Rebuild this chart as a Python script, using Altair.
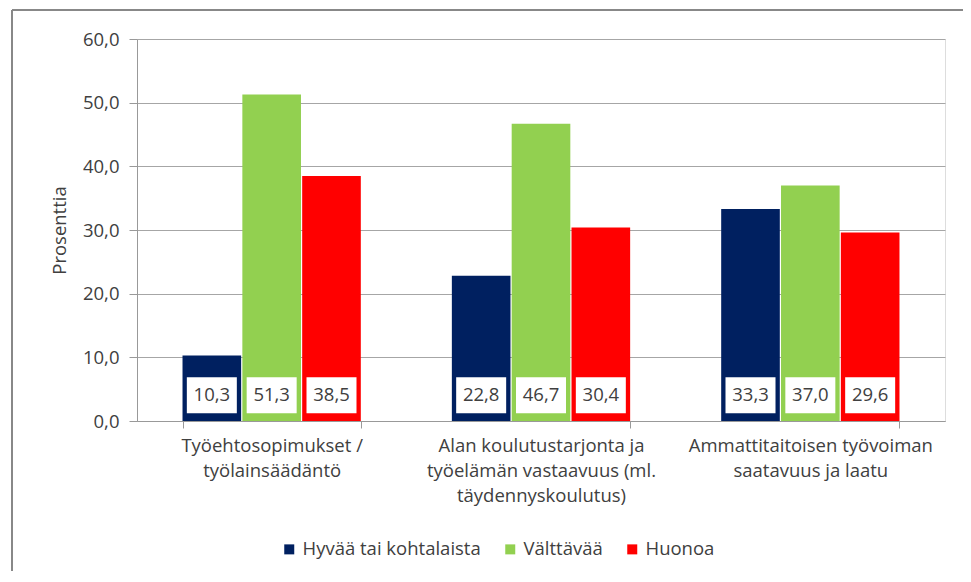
import altair as alt
import pandas as pd

categories = [
    "Työehtosopimukset /|työlainsäädäntö",
    "Alan koulutustarjonta ja|työelämän vastaavuus (ml.|täydennyskoulutus)",
    "Ammattitaitoisen työvoiman|saatavuus ja laatu",
]
series = ["Hyvää tai kohtalaista", "Välttävää", "Huonoa"]
colors = ["#002060", "#92D050", "#FF0000"]
values_hyvaa = [10.3, 22.8, 33.3]
values_valttava = [51.3, 46.7, 37.0]
values_huonoa = [38.5, 30.4, 29.6]

rows = []
for i, c in enumerate(categories):
    for s, vals in zip(series, [values_hyvaa, values_valttava, values_huonoa]):
        rows.append({"cat": c, "series": s, "value": vals[i]})
df = pd.DataFrame(rows)

FONT = "Open Sans"
FS = 18.5
TXT = "#404040"

x_enc = alt.X(
    "cat:N",
    sort=categories,
    scale=alt.Scale(paddingInner=0.338, paddingOuter=0.169),
    axis=alt.Axis(
        title=None,
        labelExpr="split(datum.label, '|')",
        labelAngle=0,
        labelFont=FONT,
        labelFontSize=FS,
        labelColor=TXT,
        labelLineHeight=25,
        labelPadding=8,
        labelBaseline="top",
        labelLimit=0,
        domainColor="#999999",
        tickColor="#999999",
        tickSize=7,
        tickBand="extent",
    ),
)
xoff = alt.XOffset("series:N", sort=series, scale=alt.Scale(paddingInner=0.02))
color_enc = alt.Color(
    "series:N",
    sort=series,
    scale=alt.Scale(domain=series, range=colors),
    legend=alt.Legend(
        title=None,
        orient="none",
        legendX=143,
        legendY=501,
        direction="horizontal",
        columns=3,
        columnPadding=20,
        symbolType="square",
        symbolSize=100,
        symbolStrokeWidth=0,
        labelFont=FONT,
        labelFontSize=FS,
        labelColor=TXT,
        labelLimit=0,
        padding=0,
    ),
)

bars = alt.Chart(df).mark_bar().encode(
    x=x_enc,
    xOffset=xoff,
    y=alt.Y(
        "value:Q",
        scale=alt.Scale(domain=[0, 60], nice=False),
        axis=alt.Axis(
            title="Prosenttia",
            titleFont=FONT,
            titleFontSize=FS,
            titleFontWeight="normal",
            titleColor=TXT,
            titlePadding=13,
            values=[0, 10, 20, 30, 40, 50, 60],
            labelExpr="replace(format(datum.value, '.1f'), '.', ',')",
            labelFont=FONT,
            labelFontSize=FS,
            labelColor=TXT,
            labelPadding=10,
            tickSize=8,
            tickColor="#999999",
            domainColor="#999999",
            gridColor="#a6a6a6",
        ),
    ),
    color=color_enc,
)

box_path = "M-1,-0.72L1,-0.72L1,0.72L-1,0.72Z"
boxes = alt.Chart(df).mark_point(
    shape=box_path, size=2500, filled=True, color="white", opacity=1, strokeWidth=0
).encode(
    x=alt.X("cat:N", sort=categories),
    xOffset=xoff,
    y=alt.datum(4.05),
)

labels = alt.Chart(df).transform_calculate(
    lab="replace(format(datum.value, '.1f'), '.', ',')"
).mark_text(font=FONT, fontSize=FS, color=TXT, baseline="middle").encode(
    x=alt.X("cat:N", sort=categories),
    xOffset=xoff,
    y=alt.datum(4.05),
    text="lab:N",
)

frame_top = alt.Chart(df).mark_rule(color="#888888", strokeWidth=1.5).encode(
    x=alt.value(-125), x2=alt.value(840), y=alt.value(-29)
)
frame_left = alt.Chart(df).mark_rule(color="#888888", strokeWidth=1.5).encode(
    x=alt.value(-125), y=alt.value(-29), y2=alt.value(560)
)

chart = (
    alt.layer(bars, boxes, labels, frame_top, frame_left)
    .properties(
        width=808,
        height=382,
        autosize=alt.AutoSizeParams(type="none"),
        padding={"left": 129, "top": 31, "right": 18, "bottom": 150},
    )
    .configure_view(stroke=None)
    .configure(background="white")
)

chart.save("out.html", embed_options={"renderer": "svg", "actions": False})
